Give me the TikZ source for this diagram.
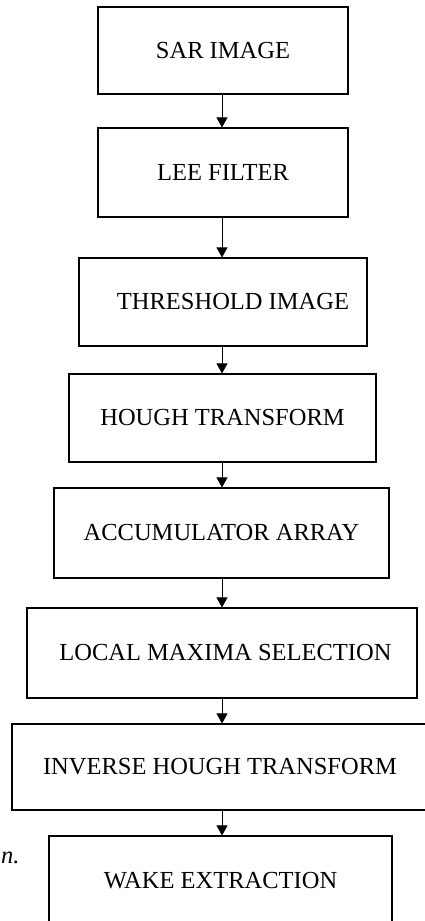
\documentclass[tikz,border=0pt]{standalone}
\usepackage{fontspec}
\setmainfont{Liberation Serif}
\usetikzlibrary{arrows.meta}
\begin{document}
\begin{tikzpicture}[x=1pt,y=-1pt,
 box/.style={draw, line width=1.1pt, inner sep=0pt, font=\fontsize{24.5}{29}\selectfont},
 flow/.style={line width=0.8pt, -{Triangle[width=11pt,length=10pt]}}]
\clip (0,0) rectangle (425,921);
\fill[white] (0,0) rectangle (425,921);
\node[box, minimum width=250pt, minimum height=87pt] (b1) at (223,50.5) {SAR IMAGE};
\node[box, minimum width=250pt, minimum height=89pt] (b2) at (223,172.5) {LEE FILTER};
\node[box, minimum width=288pt, minimum height=88pt] (b3) at (223,302) {\hspace*{20pt}THRESHOLD IMAGE};
\node[box, minimum width=307pt, minimum height=88pt] (b4) at (222.5,418) {HOUGH TRANSFORM};
\node[box, minimum width=335pt, minimum height=90pt] (b5) at (221.5,533) {ACCUMULATOR ARRAY};
\node[box, minimum width=390pt, minimum height=90pt] (b6) at (222,653) {\hspace*{7pt}LOCAL MAXIMA SELECTION};
\node[box, minimum width=416pt, minimum height=86pt] (b7) at (220,767) {INVERSE HOUGH TRANSFORM};
\node[box, minimum width=343pt, minimum height=90pt] (b8) at (220.5,881) {WAKE EXTRACTION};
\coordinate (ax) at (222,0);
\draw[flow] (b1.south -| ax) -- (b2.north -| ax);
\draw[flow] (b2.south -| ax) -- (b3.north -| ax);
\draw[flow] (b3.south -| ax) -- (b4.north -| ax);
\draw[flow] (b4.south -| ax) -- (b5.north -| ax);
\draw[flow] (b5.south -| ax) -- (b6.north -| ax);
\draw[flow] (b6.south -| ax) -- (b7.north -| ax);
\draw[flow] (b7.south -| ax) -- (b8.north -| ax);
\node[font=\fontsize{24.5}{29}\selectfont\itshape, anchor=base west, inner sep=0pt] (frag) at (1,863) {n.};
\end{tikzpicture}
\end{document}
